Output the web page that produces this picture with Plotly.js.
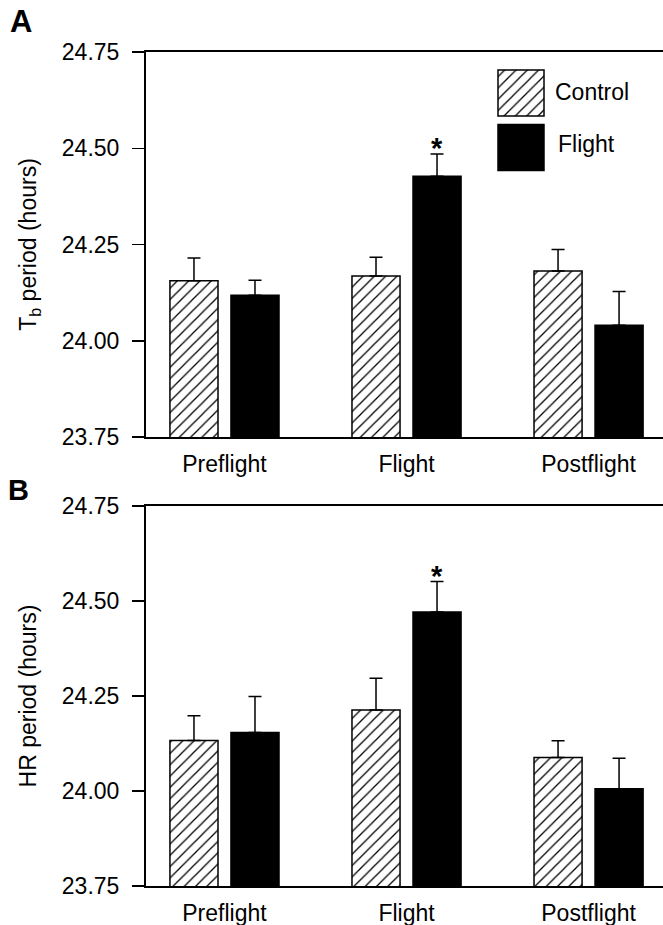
<!DOCTYPE html>
<html><head><meta charset="utf-8">
<script src="https://cdn.plot.ly/plotly-3.0.1.min.js"></script>
<style>html,body{margin:0;padding:0;background:#fff;overflow:hidden}</style>
</head><body><div id="chart" style="width:663px;height:925px"></div>
<script>
// ---- data ----
const categories = ['Preflight', 'Flight', 'Postflight'];
const tbControl    = [24.156, 24.168, 24.181];
const tbControlErr = [0.059, 0.049, 0.056];
const tbFlight     = [24.118, 24.427, 24.040];
const tbFlightErr  = [0.039, 0.058, 0.088];
const hrControl    = [24.133, 24.213, 24.088];
const hrControlErr = [0.065, 0.084, 0.044];
const hrFlight     = [24.154, 24.471, 24.006];
const hrFlightErr  = [0.095, 0.080, 0.080];
const yTicks      = [23.75, 24.00, 24.25, 24.50, 24.75];
const yTickLabels = ['23.75', '24.00', '24.25', '24.50', '24.75'];
const seriesNames = ['Control', 'Flight'];
const significantCategory = 'Flight';

// ---- layout helpers ----
const W = 663, H = 925, L = 146, PW = W - L;
const px2x = p => (p - L) / PW;
const px2y = p => 1 - p / H;
const FONT = 'Liberation Sans, Arial, Helvetica, sans-serif';
const BAR_W = 0.264, OFF_C = -0.2995, OFF_F = 0.0357;
const zeros = categories.map(() => 0);

const hatch = {shape: '/', size: 8, solidity: 0.16, fgcolor: '#000', bgcolor: '#fff', fillmode: 'replace'};

function controlTrace(y, err, xa, ya) {
  return {type: 'bar', x: categories, y: y, name: seriesNames[0], xaxis: xa, yaxis: ya,
    width: BAR_W, offset: OFF_C, showlegend: false, hoverinfo: 'skip',
    marker: {color: '#fff', pattern: hatch, line: {color: '#000', width: 1.5}},
    error_y: {type: 'data', symmetric: false, array: err, arrayminus: zeros, color: '#000', thickness: 1.5, width: 6.5}};
}
function flightTrace(y, err, xa, ya) {
  return {type: 'bar', x: categories, y: y, name: seriesNames[1], xaxis: xa, yaxis: ya,
    width: BAR_W, offset: OFF_F, showlegend: false, hoverinfo: 'skip',
    marker: {color: '#000', line: {color: '#000', width: 1.5}},
    error_y: {type: 'data', symmetric: false, array: err, arrayminus: zeros, color: '#000', thickness: 1.5, width: 6.5}};
}

const data = [
  controlTrace(tbControl, tbControlErr, 'x', 'y'),
  flightTrace(tbFlight, tbFlightErr, 'x', 'y'),
  controlTrace(hrControl, hrControlErr, 'x2', 'y2'),
  flightTrace(hrFlight, hrFlightErr, 'x2', 'y2'),
  // legend swatches
  {type: 'bar', x: [0], y: [1], width: [1], xaxis: 'x3', yaxis: 'y3', showlegend: false, hoverinfo: 'skip',
   marker: {color: '#fff', pattern: hatch, line: {color: '#000', width: 1.5}}},
  {type: 'bar', x: [0], y: [1], width: [1], xaxis: 'x4', yaxis: 'y4', showlegend: false, hoverinfo: 'skip',
   marker: {color: '#000', line: {color: '#000', width: 1.5}}}
];

function xAxis(anchor) {
  return {anchor: anchor, domain: [0, 1], type: 'category', categoryorder: 'array', categoryarray: categories,
    range: [-0.431, 2.409], showline: true, linewidth: 2, linecolor: '#000', mirror: true,
    ticks: '', showgrid: false, zeroline: false, fixedrange: true,
    tickfont: {family: FONT, size: 23, color: '#000'}, ticklabelstandoff: 5};
}
function yAxis(anchor, domain, title) {
  return {anchor: anchor, domain: domain, range: [23.75, 24.75], tickvals: yTicks, ticktext: yTickLabels,
    showline: true, linewidth: 2, linecolor: '#000', mirror: false, ticks: 'outside', ticklen: 12,
    tickwidth: 1.5, tickcolor: '#000', showgrid: false, zeroline: false, fixedrange: true,
    tickfont: {family: FONT, size: 23, color: '#000'}, ticklabelstandoff: 8,
    title: {text: title, font: {family: FONT, size: 23, color: '#000'}, standoff: 19}};
}
const hidden = (anchor, domain, range) => ({anchor: anchor, domain: domain, range: range, visible: false, fixedrange: true});

const sigIdx = categories.indexOf(significantCategory);
const starX = sigIdx + OFF_F + BAR_W / 2;

const layout = {
  width: W, height: H, margin: {l: L, r: 0, t: 0, b: 0},
  paper_bgcolor: '#fff', plot_bgcolor: '#fff', barmode: 'overlay', showlegend: false,
  font: {family: FONT, color: '#000'},
  xaxis: xAxis('y'),
  yaxis: yAxis('x', [px2y(437), px2y(52)], 'T<sub>b</sub> period (hours)'),
  xaxis2: xAxis('y2'),
  yaxis2: yAxis('x2', [px2y(886), px2y(506)], 'HR period (hours)'),
  xaxis3: hidden('y3', [px2x(495.7), px2x(546.3)], [-0.55, 0.55]),
  yaxis3: hidden('x3', [px2y(118.3), px2y(67.7)], [-0.05, 1.05]),
  xaxis4: hidden('y4', [px2x(495.7), px2x(546.3)], [-0.55, 0.55]),
  yaxis4: hidden('x4', [px2y(172.8), px2y(122.2)], [-0.05, 1.05]),
  annotations: [
    {xref: 'paper', yref: 'paper', x: px2x(8), y: px2y(22), xanchor: 'left', yanchor: 'middle', showarrow: false,
     text: '<b>A</b>', font: {family: FONT, size: 31, color: '#000'}},
    {xref: 'paper', yref: 'paper', x: px2x(6), y: px2y(490), xanchor: 'left', yanchor: 'middle', showarrow: false,
     text: '<b>B</b>', font: {family: FONT, size: 29, color: '#000'}},
    {xref: 'paper', yref: 'paper', x: px2x(553), y: px2y(92), xanchor: 'left', yanchor: 'middle', showarrow: false,
     text: seriesNames[0], font: {family: FONT, size: 23, color: '#000'}},
    {xref: 'paper', yref: 'paper', x: px2x(556), y: px2y(144), xanchor: 'left', yanchor: 'middle', showarrow: false,
     text: seriesNames[1], font: {family: FONT, size: 23, color: '#000'}},
    {xref: 'x', yref: 'y', x: starX, y: tbFlight[sigIdx] + tbFlightErr[sigIdx], xanchor: 'center', yanchor: 'bottom',
     yshift: -12, showarrow: false, text: '<b>*</b>', font: {family: FONT, size: 29, color: '#000'}},
    {xref: 'x2', yref: 'y2', x: starX, y: hrFlight[sigIdx] + hrFlightErr[sigIdx], xanchor: 'center', yanchor: 'bottom',
     yshift: -12, showarrow: false, text: '<b>*</b>', font: {family: FONT, size: 29, color: '#000'}}
  ]
};

Plotly.newPlot('chart', data, layout, {staticPlot: true, displayModeBar: false});
</script></body></html>
